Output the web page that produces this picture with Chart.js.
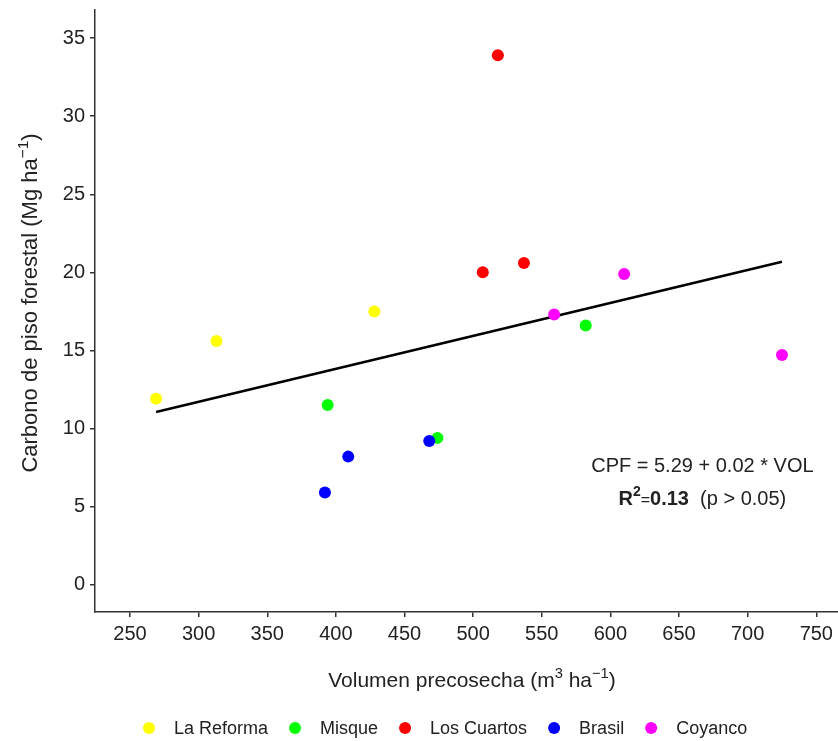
<!DOCTYPE html>
<html>
<head>
<meta charset="utf-8">
<script src="https://cdn.jsdelivr.net/npm/chart.js@4/dist/chart.umd.min.js"></script>
<style>
  html, body { margin: 0; padding: 0; background: #fff; }
  #wrap { width: 838px; height: 741px; }
</style>
</head>
<body>
<div id="wrap"><canvas id="chart" width="838" height="741"></canvas></div>
<script>
// sitios y colores
const sitios = ['La Reforma', 'Misque', 'Los Cuartos', 'Brasil', 'Coyanco'];
const colores = ['#ffff00', '#00ff00', '#ff0000', '#0000ff', '#ff00ff'];

// volumen precosecha (m3 ha-1) y carbono de piso forestal (Mg ha-1)
const volReforma = [269, 313, 428];
const cpfReforma = [11.9, 15.6, 17.5];
const volMisque = [394, 474, 582];
const cpfMisque = [11.5, 9.4, 16.6];
const volCuartos = [518, 507, 537];
const cpfCuartos = [33.9, 20.0, 20.6];
const volBrasil = [468, 409, 392];
const cpfBrasil = [9.2, 8.2, 5.9];
const volCoyanco = [559, 610, 725];
const cpfCoyanco = [17.3, 19.9, 14.7];

// recta ajustada (extremos)
const ajusteVol = [269, 725];
const ajusteCpf = [11.06, 20.68];

// ejes
const xTicks = [250, 300, 350, 400, 450, 500, 550, 600, 650, 700, 750];
const yTicks = [0, 5, 10, 15, 20, 25, 30, 35];

const FONT = "'Liberation Sans', Arial, sans-serif";

const series = [
  [volReforma, cpfReforma],
  [volMisque, cpfMisque],
  [volCuartos, cpfCuartos],
  [volBrasil, cpfBrasil],
  [volCoyanco, cpfCoyanco]
];

const datasets = series.map(([xs, ys], i) => ({
  type: 'scatter',
  label: sitios[i],
  data: xs.map((x, j) => ({ x: x, y: ys[j] })),
  backgroundColor: colores[i],
  borderWidth: 0,
  pointRadius: 6,
  pointHoverRadius: 6,
  order: 5 - i
}));

datasets.push({
  type: 'line',
  label: 'ajuste',
  data: ajusteVol.map((x, j) => ({ x: x, y: ajusteCpf[j] })),
  borderColor: '#000',
  borderWidth: 2.5,
  pointRadius: 0,
  fill: false,
  order: 10
});

// texto con superíndices: partes [{t, sup, bold, size}]
function drawRich(ctx, parts, cx, baseline, size) {
  const fontFor = p => (p.bold ? 'bold ' : '') + (p.size || (p.sup ? size * 0.7 : size)) + 'px ' + FONT;
  let total = 0;
  parts.forEach(p => { ctx.font = fontFor(p); p.w = ctx.measureText(p.t).width; total += p.w; });
  let x = cx - total / 2;
  ctx.textAlign = 'left';
  ctx.textBaseline = 'alphabetic';
  parts.forEach(p => {
    ctx.font = fontFor(p);
    ctx.fillText(p.t, x, baseline - (p.sup ? size * 0.42 : 0));
    x += p.w;
  });
}

const textos = {
  id: 'textos',
  afterDraw(chart) {
    const ctx = chart.ctx;
    const xs = chart.scales.x, ys = chart.scales.y;
    ctx.save();
    ctx.fillStyle = '#222';

    // título eje x
    drawRich(ctx, [
      { t: 'Volumen precosecha (m' }, { t: '3', sup: true }, { t: ' ha' },
      { t: '\u22121', sup: true }, { t: ')' }
    ], 472, 687, 21);

    // título eje y
    ctx.save();
    ctx.translate(37, 303);
    ctx.rotate(-Math.PI / 2);
    drawRich(ctx, [
      { t: 'Carbono de piso forestal (Mg ha' }, { t: '\u22121', sup: true }, { t: ')' }
    ], 0, 0, 22);
    ctx.restore();

    // ecuación
    const ax = xs.getPixelForValue(667);
    drawRich(ctx, [{ t: 'CPF = 5.29 + 0.02 * VOL' }], ax, ys.getPixelForValue(7.23), 20);
    drawRich(ctx, [
      { t: 'R', bold: true }, { t: '2', sup: true, bold: true }, { t: '=', size: 16 },
      { t: '0.13', bold: true }, { t: '  (p > 0.05)' }
    ], ax, ys.getPixelForValue(5.12), 20);

    // leyenda
    ctx.font = '18px ' + FONT;
    let lx = 149;
    const ly = 728;
    sitios.forEach((s, i) => {
      ctx.beginPath();
      ctx.arc(lx, ly, 6, 0, Math.PI * 2);
      ctx.fillStyle = colores[i];
      ctx.fill();
      ctx.fillStyle = '#222';
      ctx.textBaseline = 'middle';
      ctx.fillText(s, lx + 25, ly + 1);
      lx += 25 + ctx.measureText(s).width + 27;
    });
    ctx.restore();
  }
};

new Chart(document.getElementById('chart'), {
  data: { datasets: datasets },
  options: {
    responsive: false,
    animation: false,
    layout: { autoPadding: false, padding: { top: 10, right: 0, bottom: 0, left: 0 } },
    plugins: { legend: { display: false }, tooltip: { enabled: false } },
    scales: {
      x: {
        type: 'linear',
        position: 'bottom',
        min: 224.5,
        max: 765.8,
        afterBuildTicks: s => { s.ticks = xTicks.map(v => ({ value: v })); },
        afterFit: s => { s.height = 129; s.paddingLeft = 0; s.paddingRight = 0; },
        grid: { drawOnChartArea: false, drawTicks: true, tickLength: 5, color: '#333', lineWidth: 1.5 },
        border: { display: true, color: '#333', width: 1.5 },
        ticks: { font: { family: FONT, size: 20 }, color: '#222', padding: 5, maxRotation: 0, autoSkip: false }
      },
      y: {
        type: 'linear',
        min: -1.75,
        max: 36.8,
        afterBuildTicks: s => { s.ticks = yTicks.map(v => ({ value: v })); },
        afterFit: s => { s.width = 95; s.paddingTop = 0; s.paddingBottom = 0; },
        grid: { drawOnChartArea: false, drawTicks: true, tickLength: 5, color: '#333', lineWidth: 1.5 },
        border: { display: true, color: '#333', width: 1.5 },
        ticks: { font: { family: FONT, size: 20 }, color: '#222', padding: 5, autoSkip: false }
      }
    }
  },
  plugins: [textos]
});
</script>
</body>
</html>
